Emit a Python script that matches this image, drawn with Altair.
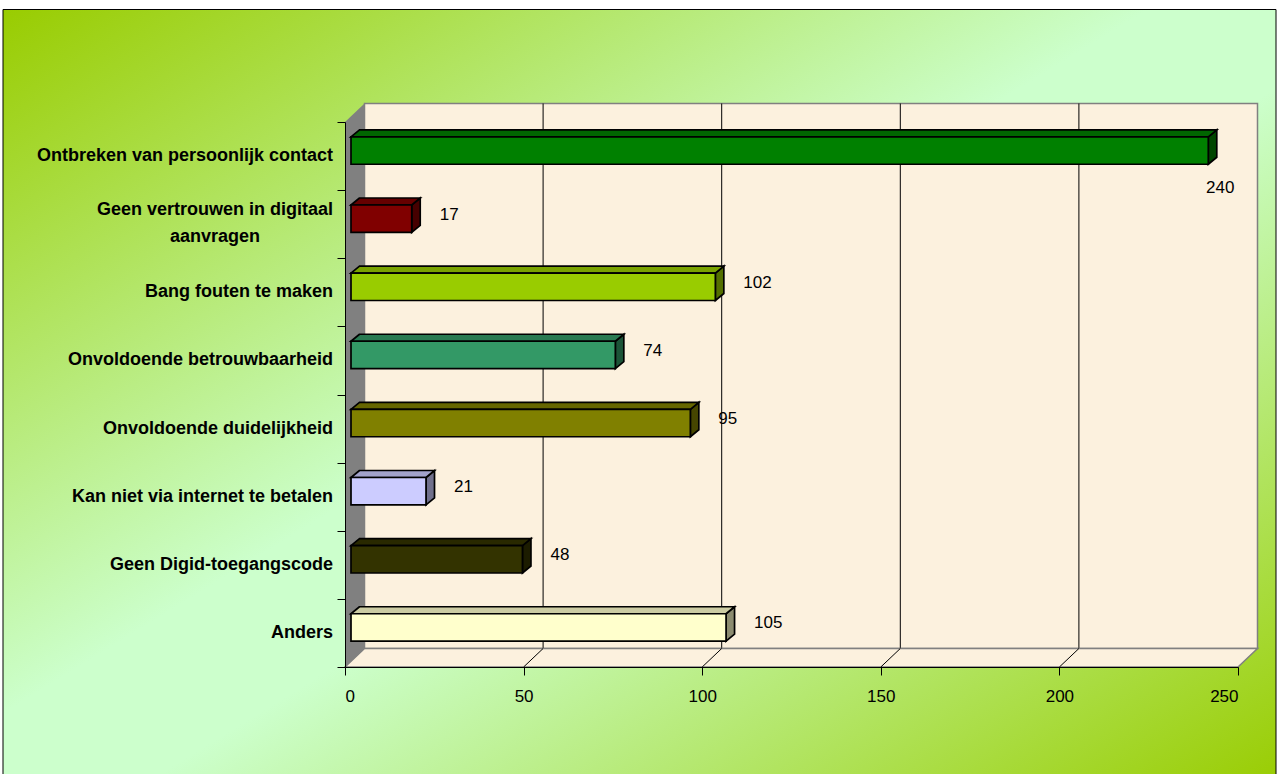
import altair as alt
import pandas as pd

# ---------------- data ----------------
categories = [
    "Ontbreken van persoonlijk contact",
    "Geen vertrouwen in digitaal\naanvragen",
    "Bang fouten te maken",
    "Onvoldoende betrouwbaarheid",
    "Onvoldoende duidelijkheid",
    "Kan niet via internet te betalen",
    "Geen Digid-toegangscode",
    "Anders\u00a0\u00a0",
]
values = [240, 17, 102, 74, 95, 21, 48, 105]
x_ticks = [0, 50, 100, 150, 200, 250]

# ---------------- styles ----------------
bar_colors = ["#008000", "#800000", "#99CC00", "#339966",
              "#808000", "#CCCCFF", "#333300", "#FFFFCC"]
WALL = "#FCF1DE"
SIDE_WALL = "#808080"
EDGE = "#808080"
FONT = "Liberation Sans"

W, H = 893, 545
XMAX = 250
NROWS = len(categories)
SX = W / XMAX
SY = H / NROWS


def ux(px):
    return px / SX


def uy(px):
    return px / SY


def shade(hexc, f):
    h = hexc.lstrip("#")
    r, g, b = (int(h[i:i + 2], 16) for i in (0, 2, 4))
    return "#%02x%02x%02x" % (round(r * f), round(g * f), round(b * f))


WALL_DX, WALL_DY = ux(19.5), uy(18.5)
BAR_X0, BAR_YOFF, BAR_HALF = ux(6), uy(5.5), uy(13.7)
BAR_DX, BAR_DY = ux(8.5), uy(7)

# ---------------- derived tables ----------------
front_rows, top_rows, side_rows, cat_rows = [], [], [], []
for i, (c, v, col) in enumerate(zip(categories, values, bar_colors)):
    r = NROWS - 1 - i
    yc = r + 0.5 + BAR_YOFF
    x0, x1 = BAR_X0, BAR_X0 + v
    ytop, ybot = yc + BAR_HALF, yc - BAR_HALF
    front_rows.append(dict(id=i, x0=x0, x1=x1, ya=ybot, yb=ytop, yc=yc,
                           value=v, fill=col))
    top_rows += [
        dict(id=i, ty=ytop, txa=x0, txb=x1, fill=shade(col, 0.8)),
        dict(id=i, ty=ytop + BAR_DY, txa=x0 + BAR_DX, txb=x1 + BAR_DX,
             fill=shade(col, 0.8)),
    ]
    side_rows += [
        dict(id=i, sx=x1, sya=ybot, syb=ytop, fill=shade(col, 0.55)),
        dict(id=i, sx=x1 + BAR_DX, sya=ybot + BAR_DY, syb=ytop + BAR_DY,
             fill=shade(col, 0.55)),
    ]
    cat_rows.append(dict(label=c, cy=r + 0.5, wrapped="\n" in c))

front_df = pd.DataFrame(front_rows)
top_df = pd.DataFrame(top_rows)
side_df = pd.DataFrame(side_rows)
cat_df = pd.DataFrame(cat_rows)

wall_df = pd.DataFrame([dict(wx=WALL_DX, wx2=XMAX + WALL_DX,
                             wy=WALL_DY, wy2=NROWS + WALL_DY)])
sidewall_df = pd.DataFrame([dict(sx=0, sya=0, syb=NROWS),
                            dict(sx=WALL_DX, sya=WALL_DY, syb=NROWS + WALL_DY)])
floor_df = pd.DataFrame([dict(ty=0, txa=0, txb=XMAX),
                         dict(ty=WALL_DY, txa=WALL_DX, txb=XMAX + WALL_DX)])
inner = [t for t in x_ticks if 0 < t < XMAX]
grid_df = pd.DataFrame([dict(gx=t + WALL_DX, gya=WALL_DY, gyb=NROWS + WALL_DY)
                        for t in inner])
fl_df = pd.DataFrame([dict(fx=t, fx2=t + WALL_DX, fy=0, fy2=WALL_DY)
                      for t in inner])

# ---------------- scales & axes ----------------
xs = alt.Scale(domain=[0, XMAX], nice=False, zero=False)
ys = alt.Scale(domain=[0, NROWS], nice=False, zero=False)
xaxis = alt.Axis(values=x_ticks, title=None, grid=False, domainColor="black",
                 tickColor="black", tickSize=8, labelFontSize=17,
                 labelFont=FONT, labelColor="black", labelPadding=13,
                 zindex=1)
yaxis = alt.Axis(values=list(range(NROWS + 1)), labels=False, title=None,
                 grid=False, tickSize=8, domainColor="black",
                 tickColor="black", zindex=1)


def X(f):
    return alt.X(f, type="quantitative", scale=xs, axis=xaxis, stack=None)


def Y(f):
    return alt.Y(f, type="quantitative", scale=ys, axis=yaxis, stack=None)


# ---------------- layers ----------------
bg = alt.Chart(pd.DataFrame({"a": [0]})).mark_rect(
    fill={"gradient": "linear", "x1": 0, "y1": 0, "x2": 1, "y2": 1,
          "stops": [{"offset": 0, "color": "#99CC00"},
                    {"offset": 0.45, "color": "#CCFFCC"},
                    {"offset": 0.55, "color": "#CCFFCC"},
                    {"offset": 1, "color": "#99CC00"}]},
    stroke="black", strokeWidth=1,
).encode(x=alt.value(-342), x2=alt.value(931),
         y=alt.value(-112.5), y2=alt.value(670))

wall = alt.Chart(wall_df).mark_rect(fill=WALL, stroke=EDGE, strokeWidth=1.5).encode(
    x=X("wx"), x2="wx2", y=Y("wy"), y2="wy2")

grid = alt.Chart(grid_df).mark_rule(color="black", strokeWidth=1).encode(
    x=X("gx"), y=Y("gya"), y2="gyb")

floor = alt.Chart(floor_df).mark_area(
    orient="horizontal", fill=WALL, stroke=EDGE, strokeWidth=1.5).encode(
    y=Y("ty"), x=X("txa"), x2="txb")

floor_lines = alt.Chart(fl_df).mark_rule(color="black", strokeWidth=1).encode(
    x=X("fx"), x2="fx2", y=Y("fy"), y2="fy2")

side_wall = alt.Chart(sidewall_df).mark_area(
    orient="vertical", fill=SIDE_WALL).encode(
    x=X("sx"), y=Y("sya"), y2="syb")

side_faces = alt.Chart(side_df).mark_area(
    orient="vertical", stroke="black", strokeWidth=1.7, strokeJoin="miter").encode(
    x=X("sx"), y=Y("sya"), y2="syb",
    fill=alt.Fill("fill:N", scale=None), detail="id:N")

top_faces = alt.Chart(top_df).mark_area(
    orient="horizontal", stroke="black", strokeWidth=1.7, strokeJoin="miter").encode(
    y=Y("ty"), x=X("txa"), x2="txb",
    fill=alt.Fill("fill:N", scale=None), detail="id:N")

fronts = alt.Chart(front_df).mark_rect(stroke="black", strokeWidth=1.7).encode(
    x=X("x0"), x2="x1", y=Y("ya"), y2="yb",
    fill=alt.Fill("fill:N", scale=None))

vlabels = alt.Chart(front_df).transform_filter("datum.value <= 200").mark_text(
    align="left", baseline="middle", dx=28, dy=-4, fontSize=17, font=FONT,
    color="black").encode(x=X("x1"), y=Y("yc"), text="value:Q")

vlabel_big = alt.Chart(front_df).transform_filter("datum.value > 200").mark_text(
    align="center", baseline="middle", dx=12, dy=37, fontSize=17, font=FONT,
    color="black").encode(x=X("x1"), y=Y("yc"), text="value:Q")

cat_labels = alt.Chart(cat_df).transform_filter("!datum.wrapped").mark_text(
    align="right", baseline="middle", fontSize=18, fontWeight="bold",
    font=FONT, color="black").encode(x=alt.value(-12), y=Y("cy"), text="label:N")

cat_wrapped = alt.Chart(cat_df).transform_filter("datum.wrapped").mark_text(
    align="center", baseline="middle", fontSize=18, fontWeight="bold",
    font=FONT, color="black", lineBreak="\n", lineHeight=27, dy=-14).encode(
    x=alt.value(-130), y=Y("cy"), text="label:N")

chart = alt.layer(
    bg, wall, grid, floor, floor_lines, side_wall,
    side_faces, top_faces, fronts, vlabels, vlabel_big, cat_labels, cat_wrapped,
).properties(
    width=W, height=H,
    autosize=alt.AutoSizeParams(type="none"),
    padding={"left": 345, "top": 122, "right": 41, "bottom": 107},
).configure_view(stroke="transparent").configure(background="white")

chart.save("out.html", embed_options={"renderer": "svg", "actions": False})
